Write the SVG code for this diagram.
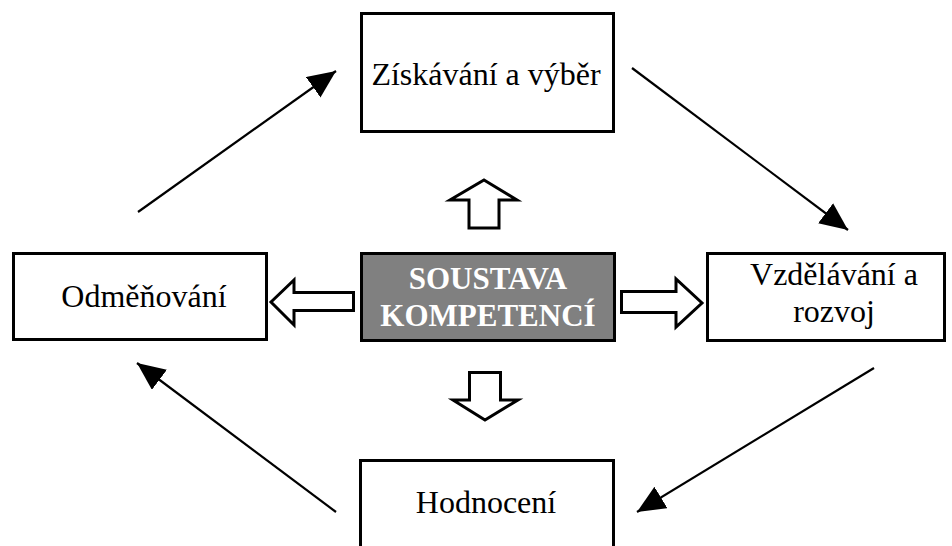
<svg xmlns="http://www.w3.org/2000/svg" width="952" height="546" viewBox="0 0 952 546">
<style>
.box{fill:#ffffff;stroke:#000000;stroke-width:3}
.core{fill:#808080;stroke:#000000;stroke-width:3}
.lbl{font-family:"Liberation Serif","Times New Roman",serif;font-size:32px;fill:#000000;text-anchor:middle}
.core-lbl{font-family:"Liberation Serif","Times New Roman",serif;font-size:31px;font-weight:bold;fill:#ffffff;text-anchor:middle}
.flow{stroke:#000000;stroke-width:2.2;fill:none;marker-end:url(#head)}
.block{fill:#ffffff;stroke:#000000;stroke-width:3;stroke-linejoin:miter}
</style>
<defs>
<marker id="head" markerUnits="userSpaceOnUse" markerWidth="30" markerHeight="26" refX="28" refY="12.5" orient="auto" viewBox="0 0 30 26">
<path d="M0,0 L28,12.5 L0,25 Z" fill="#000000"/>
</marker>
</defs>
<rect width="952" height="546" fill="#ffffff"/>
<g id="connectors">
<line class="flow" x1="138" y1="212" x2="336" y2="71"/>
<line class="flow" x1="632" y1="68" x2="848" y2="230"/>
<line class="flow" x1="874" y1="368" x2="637" y2="512"/>
<line class="flow" x1="336" y1="512" x2="137" y2="363"/>
<path class="block" d="M484,180 L517,200 L499,200 L499,228 L469,228 L469,200 L450,200 Z"/>
<path class="block" d="M469.5,372.5 L500.5,372.5 L500.5,400 L518,400 L485,420 L453,400 L469.5,400 Z"/>
<path class="block" d="M271,302 L294,280 L294,292.5 L353.5,292.5 L353.5,310.5 L294,310.5 L294,325 Z"/>
<path class="block" d="M621.5,291.5 L676,291.5 L676,279 L702,303 L676,327 L676,312.5 L621.5,312.5 Z"/>
</g>
<g id="ziskavani">
<rect class="box" x="361.5" y="13.5" width="252" height="118"/>
<text class="lbl" x="486" y="85">Získávání a výběr</text>
</g>
<g id="odmenovani">
<rect class="box" x="13.5" y="253.5" width="253" height="86"/>
<text class="lbl" x="144" y="307">Odměňování</text>
</g>
<g id="soustava">
<rect class="core" x="361.5" y="253.5" width="253" height="87"/>
<text class="core-lbl" x="488" y="289">SOUSTAVA</text>
<text class="core-lbl" x="488" y="326">KOMPETENCÍ</text>
</g>
<g id="vzdelavani">
<rect class="box" x="707.5" y="253.5" width="237" height="87"/>
<text class="lbl" x="834" y="285">Vzdělávání a</text>
<text class="lbl" x="834" y="322">rozvoj</text>
</g>
<g id="hodnoceni">
<rect class="box" x="360.5" y="460.5" width="253" height="100"/>
<text class="lbl" x="486" y="513">Hodnocení</text>
</g>
</svg>
